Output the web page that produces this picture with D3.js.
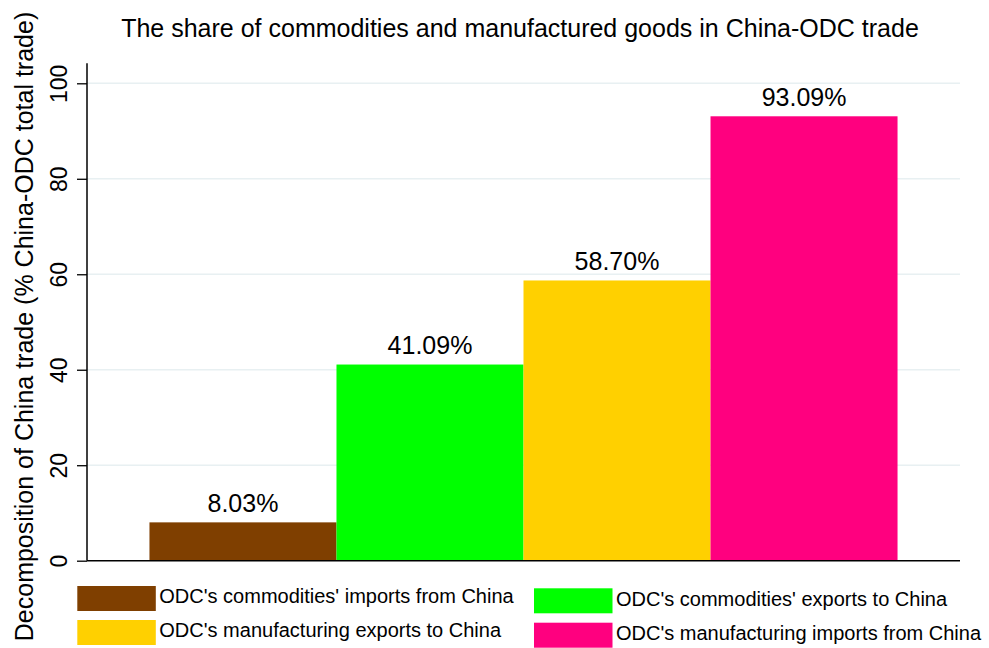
<!DOCTYPE html>
<html><head><meta charset="utf-8">
<script src="https://cdn.jsdelivr.net/npm/d3@7"></script>
<style>body{margin:0;background:#fff;} svg{display:block;} text{font-family:"Liberation Sans",Arial,sans-serif;fill:#000;}</style>
</head><body>
<svg id="chart" width="989" height="648"></svg>
<script>
(function(){
const categories = ["ODC's commodities' imports from China","ODC's commodities' exports to China","ODC's manufacturing exports to China","ODC's manufacturing imports from China"];
const values = [8.03, 41.09, 58.70, 93.09];
const colors = ["#7f3f00","#00ff00","#ffd000","#ff007f"];
const yTicks = [0,20,40,60,80,100];
const title = "The share of commodities and manufactured goods in China-ODC trade";
const yTitle = "Decomposition of China trade (% China-ODC total trade)";

const svg = d3.select("#chart");
const mLeft = 87, mRight = 960, mTop = 83.3, mBottom = 560.7;
const x = d3.scaleBand().domain(categories).range([mLeft, mRight]).paddingInner(0).paddingOuter(0.334);
const y = d3.scaleLinear().domain([0,100]).range([mBottom, mTop]);

// gridlines
svg.append("g").selectAll("line").data(yTicks.filter(d=>d>0)).join("line")
  .attr("x1", mLeft).attr("x2", mRight).attr("y1", d=>y(d)).attr("y2", d=>y(d))
  .attr("stroke", "#e8f0f2").attr("stroke-width", 1.5);

// bars
svg.append("g").selectAll("rect").data(values).join("rect")
  .attr("x", (d,i)=>x(categories[i])).attr("width", x.bandwidth())
  .attr("y", d=>y(d)).attr("height", d=>y(0)-y(d))
  .attr("fill", (d,i)=>colors[i]);

// value labels
svg.append("g").selectAll("text").data(values).join("text")
  .attr("x", (d,i)=>x(categories[i]) + x.bandwidth()/2)
  .attr("y", d=>y(d) - 10.3)
  .attr("text-anchor","middle").attr("font-size", 25)
  .text(d=>d.toFixed(2)+"%");

// y axis
const yAxis = d3.axisLeft(y).tickValues(yTicks).tickSize(10).tickPadding(5);
const ga = svg.append("g").attr("transform", `translate(${mLeft},0)`).call(yAxis);
ga.select(".domain").remove();
ga.selectAll(".tick line").attr("stroke","#000").attr("stroke-width",1.3);
ga.selectAll(".tick text").attr("font-size", 23).attr("font-family","Liberation Sans, Arial, sans-serif")
  .attr("fill","#000")
  .attr("transform","rotate(-90)").attr("x",0).attr("y",-20.5).attr("dy","0").attr("text-anchor","middle");
svg.append("line").attr("x1", mLeft).attr("x2", mLeft).attr("y1", mTop-20).attr("y2", mBottom)
  .attr("stroke","#000").attr("stroke-width",1.5);
svg.append("line").attr("x1", mLeft).attr("x2", mRight).attr("y1", mBottom).attr("y2", mBottom)
  .attr("stroke","#000").attr("stroke-width",1.5);

// y title
svg.append("text").attr("transform", `translate(33,326.5) rotate(-90)`)
  .attr("text-anchor","middle").attr("font-size", 25).text(yTitle);

// title
svg.append("text").attr("x", 520).attr("y", 36.7).attr("text-anchor","middle")
  .attr("font-size", 25).text(title);

// legend
const legPos = [[77.3,586],[534,588.3],[77.3,620],[534,622.7]];
const lg = svg.append("g");
categories.forEach((c, k) => {
  const [lx, ly] = legPos[k];
  lg.append("rect").attr("x", lx).attr("y", ly).attr("width", 78.5).attr("height", 25).attr("fill", colors[k]);
  lg.append("text").attr("x", lx+82).attr("y", ly+17.3).attr("font-size", 20).text(c);
});
})();
</script>
</body></html>
